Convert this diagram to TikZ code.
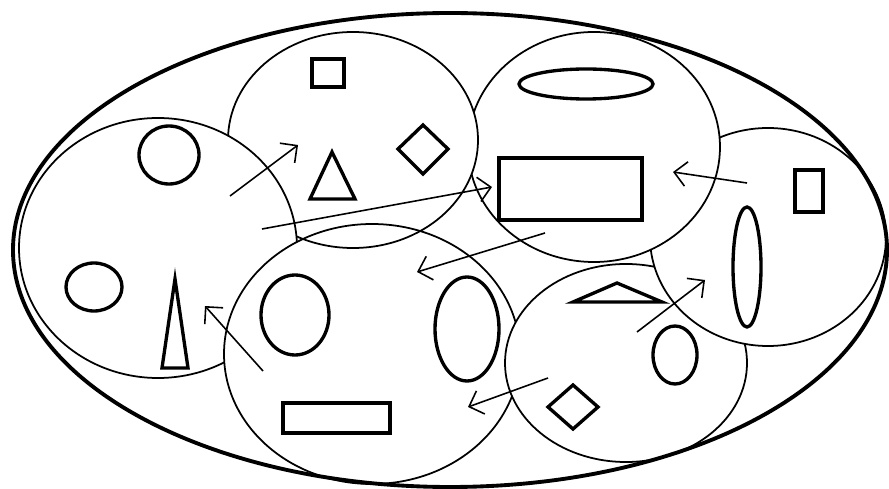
\documentclass[tikz,border=0pt]{standalone}
\usetikzlibrary{arrows.meta}

\tikzset{
  setline/.style={line width=1pt},
  shapeline/.style={line width=1.9pt},
  move/.style={line width=0.9pt,-{Straight Barb[length=7pt,width=14pt]}}
}

\begin{document}
\begin{tikzpicture}[x=0.02cm,y=-0.02cm]
\useasboundingbox (0,0) rectangle (889,489);

% outer set
\draw[line width=2.2pt] (450,250) ellipse [x radius=437, y radius=237];

% the six groups, each one partly hidden by the group before it
\foreach \cx/\cy/\rx/\ry/\kx/\ky/\krx/\kry in {
  158/248/139/130/372/354/148/130,
  353/140/125/108/158/248/139/130,
  594/147/126/115/353/140/125/108,
  768/237/118/109/594/147/126/115,
  626/363/121/99/768/237/118/109,
  372/354/148/130/626/363/121/99}
{
  \begin{scope}[even odd rule]
    \clip (0,0) rectangle (889,489)
      (\kx,\ky) ellipse [x radius=\krx, y radius=\kry];
    \draw[setline] (\cx,\cy) ellipse [x radius=\rx, y radius=\ry];
  \end{scope}
}

% left group
\draw[shapeline] (169,155) ellipse [x radius=30, y radius=29];
\draw[shapeline] (94,287) ellipse [x radius=28, y radius=24];
\draw[shapeline] (175,279) -- (188,368) -- (162,368) -- cycle;

% top group
\draw[shapeline] (312,59) rectangle (344,87);
\draw[shapeline] (332,152) -- (355,199) -- (310,199) -- cycle;
\draw[shapeline] (423,125) -- (448,149) -- (423,174) -- (398,149) -- cycle;

% top right group
\draw[shapeline] (586,84) ellipse [x radius=67, y radius=15];
\draw[shapeline] (499,158) rectangle (642,220);

% right group
\draw[shapeline] (795,170) rectangle (823,212);
\draw[shapeline] (747,267) ellipse [x radius=14, y radius=60];

% bottom right group
\draw[shapeline] (617,283) -- (662,302) -- (573,302) -- cycle;
\draw[shapeline] (675,355) ellipse [x radius=22, y radius=29];
\draw[shapeline] (573,385) -- (598,407) -- (573,429) -- (548,407) -- cycle;

% bottom group
\draw[shapeline] (295,315) ellipse [x radius=34, y radius=40];
\draw[shapeline] (467,329) ellipse [x radius=32, y radius=52];
\draw[shapeline] (283,403) rectangle (390,433);

% moves
\coordinate (m1a) at (263,371); \coordinate (m1b) at (205,306);
\coordinate (m2a) at (230,196); \coordinate (m2b) at (298,145);
\coordinate (m3a) at (262,229); \coordinate (m3b) at (492,187);
\coordinate (m4a) at (747,183); \coordinate (m4b) at (673,172);
\coordinate (m5a) at (545,233); \coordinate (m5b) at (417,272);
\coordinate (m6a) at (637,332); \coordinate (m6b) at (705,280);
\coordinate (m7a) at (548,378); \coordinate (m7b) at (468,407);
\foreach \m in {1,...,7}
  \draw[move] (m\m a) -- (m\m b);

\end{tikzpicture}
\end{document}
